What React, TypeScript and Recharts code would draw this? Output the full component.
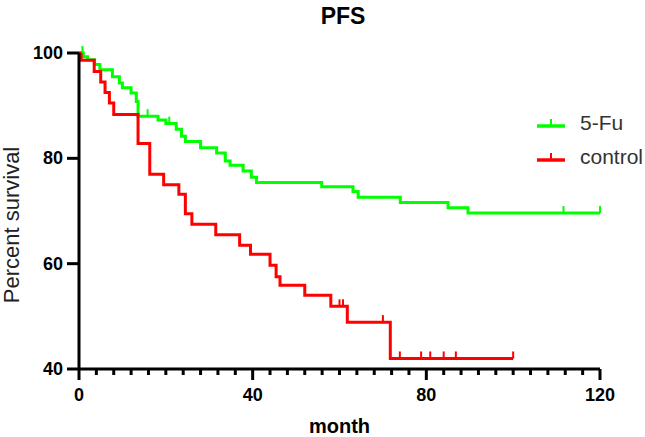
import React from 'react';
import { LineChart, Line, XAxis, YAxis } from 'recharts';

// 5-Fu group: step event times (months) and survival (%)
const fuEventMonths = [0, 1, 2, 3.6, 4.8, 7.7, 9.3, 10, 12, 13.2, 13.6, 18.2, 20, 22.4, 23.6, 24.5, 28, 31.7, 33.7, 34.8, 37.8, 39.7, 40.9, 55.9, 63.1, 64.3, 74, 85, 89.6];
const fuSurvival = [100, 99.3, 98.7, 97.8, 96.8, 95.5, 94.3, 93.4, 92.4, 90.8, 88.0, 87.3, 86.6, 85.5, 84.2, 83.2, 82.0, 81.0, 79.5, 78.7, 77.6, 76.4, 75.4, 74.6, 73.7, 72.6, 71.6, 70.6, 69.6];
const fuCensored = [0.8, 15.8, 20.8, 111.6, 120];

// control group
const ctrlEventMonths = [0, 0.5, 3.5, 5, 6, 7, 8, 13.6, 16.3, 19.5, 23, 24.5, 26, 31.5, 37, 39.5, 44, 45.4, 46.3, 52, 58, 61.8, 71.7];
const ctrlSurvival = [100, 98.6, 96.5, 94.5, 92.5, 90.5, 88.3, 82.8, 77.0, 75.0, 73.2, 69.5, 67.5, 65.5, 63.5, 61.8, 59.7, 57.5, 55.9, 54.0, 51.9, 48.9, 42.0];
const ctrlCensored = [60, 60.8, 70, 73.9, 78.8, 80.9, 84, 86.8, 100];

const xTicks = [0, 4, 8, 12, 16, 20, 24, 28, 32, 36, 40, 44, 48, 52, 56, 60, 64, 68, 72, 76, 80, 84, 88, 92, 96, 100, 104, 108, 112, 116, 120];
const yTicks = [40, 60, 80, 100];

const seriesNames = ['5-Fu', 'control'];
const seriesColors = ['#00FF00', '#FF0000'];

type Pt = { t: number; v: number; censored: boolean };

function buildSeries(times: number[], surv: number[], cens: number[]): Pt[] {
  const pts: Pt[] = times.map((t, i) => ({ t, v: surv[i], censored: false }));
  cens.forEach((c) => {
    let v = surv[0];
    times.forEach((t, i) => {
      if (t <= c) v = surv[i];
    });
    pts.push({ t: c, v, censored: true });
  });
  pts.sort((a, b) => a.t - b.t || (a.censored ? 1 : -1));
  return pts;
}

const fuData = buildSeries(fuEventMonths, fuSurvival, fuCensored);
const ctrlData = buildSeries(ctrlEventMonths, ctrlSurvival, ctrlCensored);

const FONT = '"Liberation Sans", Arial, sans-serif';

const makeCensor = (color: string) => (props: any) => {
  const { cx, cy, payload, index } = props;
  if (!payload || !payload.censored) return <g key={`d${index}`} />;
  return <line key={`d${index}`} x1={cx} x2={cx} y1={cy} y2={cy - 7} stroke={color} strokeWidth={2} />;
};

const YTick = (props: any) => {
  const { x, y, payload } = props;
  return (
    <g>
      <line x1={x - 12} x2={x} y1={y} y2={y} stroke="#000" strokeWidth={3} />
      <text x={x - 16} y={y} dy={6} textAnchor="end" fontSize={18} fontWeight="bold" fontFamily={FONT} fill="#000">
        {payload.value}
      </text>
    </g>
  );
};

const XTick = (props: any) => {
  const { x, y, payload } = props;
  const major = payload.value % 40 === 0;
  return (
    <g>
      <line x1={x} x2={x} y1={y} y2={y + (major ? 11 : 6)} stroke="#000" strokeWidth={3} />
      {major && (
        <text x={x} y={y + 32} textAnchor="middle" fontSize={18} fontWeight="bold" fontFamily={FONT} fill="#000">
          {payload.value}
        </text>
      )}
    </g>
  );
};

const LegendBox = () => (
  <div style={{ position: 'absolute', left: 536, top: 106, fontFamily: FONT }}>
    {seriesNames.map((n, i) => (
      <div key={n} style={{ display: 'flex', alignItems: 'center', height: 34 }}>
        <svg width={30} height={16} style={{ marginRight: 14 }}>
          <line x1={1} x2={29} y1={11} y2={11} stroke={seriesColors[i]} strokeWidth={3.5} />
          <line x1={15} x2={15} y1={11} y2={4} stroke={seriesColors[i]} strokeWidth={2} />
        </svg>
        <span style={{ fontSize: 21, color: '#333', whiteSpace: 'nowrap' }}>{n}</span>
      </div>
    ))}
  </div>
);

export default function App() {
  return (
    <div style={{ position: 'absolute', left: 0, top: 0, width: 645, height: 437, background: '#fff', overflow: 'hidden' }}>
      <div
        style={{
          position: 'absolute', left: 293, top: 3, width: 100, textAlign: 'center',
          fontFamily: FONT, fontWeight: 'bold', fontSize: 23, lineHeight: '26px', color: '#000',
        }}
      >
        PFS
      </div>
      <LineChart width={645} height={437} margin={{ top: 53, right: 45, bottom: 0, left: 0 }}>
        <XAxis
          type="number"
          dataKey="t"
          domain={[0, 120]}
          ticks={xTicks}
          interval={0}
          tick={<XTick />}
          tickLine={false}
          tickSize={0}
          tickMargin={0}
          height={68}
          axisLine={{ stroke: '#000', strokeWidth: 3 }}
          label={{ value: 'month', position: 'insideBottom', offset: 4, fontSize: 20, fontWeight: 'bold', fontFamily: FONT, fill: '#000' }}
        />
        <YAxis
          type="number"
          dataKey="v"
          domain={[40, 100]}
          ticks={yTicks}
          interval={0}
          tick={<YTick />}
          tickLine={false}
          tickSize={0}
          tickMargin={0}
          width={79}
          axisLine={{ stroke: '#000', strokeWidth: 3 }}
          label={{
            content: () => (
              <text transform="translate(19,225) rotate(-90)" textAnchor="middle" fontSize={22} fontFamily={FONT} fill="#222">
                Percent survival
              </text>
            ),
          }}
        />
        <Line
          data={fuData}
          dataKey="v"
          name="5-Fu"
          type="stepAfter"
          stroke={seriesColors[0]}
          strokeWidth={3}
          dot={makeCensor(seriesColors[0])}
          activeDot={false}
          isAnimationActive={false}
        />
        <Line
          data={ctrlData}
          dataKey="v"
          name="control"
          type="stepAfter"
          stroke={seriesColors[1]}
          strokeWidth={3}
          dot={makeCensor(seriesColors[1])}
          activeDot={false}
          isAnimationActive={false}
        />
      </LineChart>
      <LegendBox />
    </div>
  );
}
